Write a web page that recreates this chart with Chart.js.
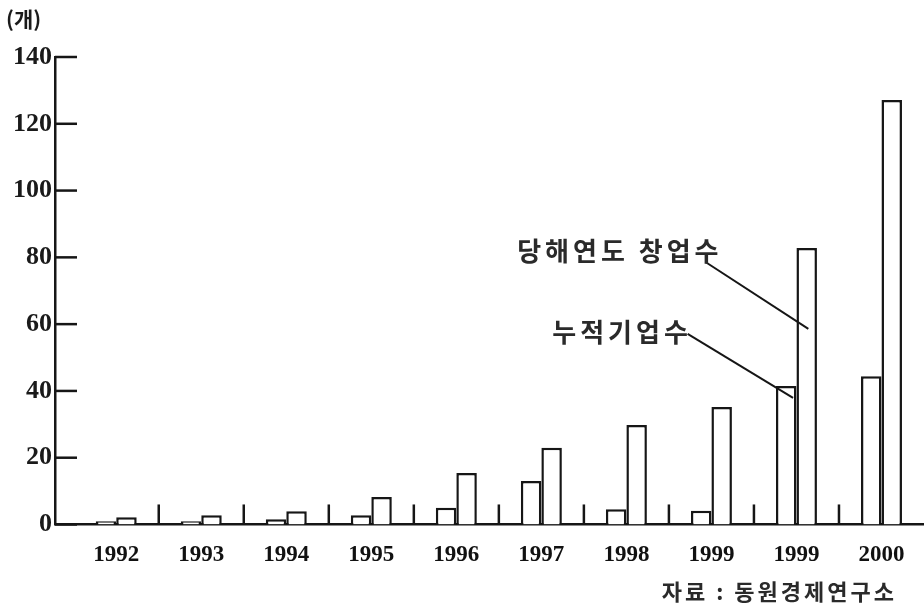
<!DOCTYPE html>
<html><head><meta charset="utf-8">
<script src="https://cdn.jsdelivr.net/npm/chart.js@4"></script>
<style>html,body{margin:0;padding:0;background:#fff}#wrap{width:924px;height:615px}</style>
</head><body><div id="wrap"><canvas id="c"></canvas></div>
<script>
const categories = ['1992','1993','1994','1995','1996','1997','1998','1999','1999','2000'];
const seriesLeft = [1, 1, 1.6, 2.8, 5, 13, 4.6, 4.1, 41.5, 44.4];
const seriesRight = [2.2, 2.8, 4, 8.2, 15.4, 23, 29.8, 35.2, 82.8, 127.1];
const yTicks = [0, 20, 40, 60, 80, 100, 120, 140];
const unitLabel = '(개)';
const sourceText = '자료 : 동원경제연구소';
const leaderTexts = ['당해연도 창업수', '누적기업수'];
const leaderTextAt = [[7.13, 81.9], [6.77, 57.7]];
const leaderLines = [[[6.93, 78.6], [8.14, 58.6]], [[6.72, 57.1], [7.96, 37.9]]];
const separatorHeight = 6;

const INK = '#161616';

const decor = {
  id: 'decor',
  afterDatasetsDraw(chart) {
    const {ctx, chartArea, scales: {x, y}} = chart;
    ctx.save();
    ctx.strokeStyle = INK;
    ctx.lineWidth = 2.5;
    ctx.lineCap = 'butt';
    y.ticks.forEach(t => {
      const py = y.getPixelForValue(t.value);
      ctx.beginPath();
      ctx.moveTo(chartArea.left, py);
      ctx.lineTo(chartArea.left + 22, py);
      ctx.stroke();
    });
    for (let i = 0; i < categories.length - 1; i++) {
      const px = x.getPixelForValue(i + 0.5);
      ctx.beginPath();
      ctx.moveTo(px, y.getPixelForValue(0));
      ctx.lineTo(px, y.getPixelForValue(separatorHeight));
      ctx.stroke();
    }
    ctx.lineWidth = 2;
    leaderLines.forEach(seg => {
      ctx.beginPath();
      ctx.moveTo(x.getPixelForValue(seg[0][0]), y.getPixelForValue(seg[0][1]));
      ctx.lineTo(x.getPixelForValue(seg[1][0]), y.getPixelForValue(seg[1][1]));
      ctx.stroke();
    });
    ctx.fillStyle = '#2a2a2a';
    ctx.font = 'bold 26px "Noto Sans CJK KR"';
    ctx.letterSpacing = '4px';
    ctx.textAlign = 'right';
    ctx.textBaseline = 'middle';
    leaderTexts.forEach((t, i) => {
      ctx.fillText(t, x.getPixelForValue(leaderTextAt[i][0]), y.getPixelForValue(leaderTextAt[i][1]));
    });
    ctx.letterSpacing = '0px';
    ctx.fillStyle = '#1a1a1a';
    ctx.font = 'bold 21px "Noto Sans CJK KR"';
    ctx.textAlign = 'left';
    ctx.fillText(unitLabel, 6, 19);
    ctx.font = 'bold 22px "Noto Sans CJK KR"';
    ctx.letterSpacing = '3px';
    ctx.fillStyle = '#2a2a2a';
    ctx.textAlign = 'right';
    ctx.fillText(sourceText, 897, 592);
    ctx.restore();
  }
};

new Chart(document.getElementById('c'), {
  type: 'bar',
  data: {
    datasets: [
      {label: 'left', data: seriesLeft.map((v, i) => ({x: i, y: v})),
       backgroundColor: '#fff', borderColor: INK, borderWidth: 2.5, borderSkipped: 'start'},
      {label: 'right', data: seriesRight.map((v, i) => ({x: i, y: v})),
       backgroundColor: '#fff', borderColor: INK, borderWidth: 2.5, borderSkipped: 'start'}
    ]
  },
  options: {
    responsive: true,
    maintainAspectRatio: false,
    animation: false,
    events: [],
    categoryPercentage: 0.482,
    barPercentage: 1,
    layout: {padding: {top: 57, left: 0, right: 0, bottom: 0}},
    plugins: {legend: {display: false}, tooltip: {enabled: false}},
    scales: {
      x: {
        type: 'linear', min: -0.72, max: 9.5, offset: false,
        afterBuildTicks: s => { s.ticks = categories.map((c, i) => ({value: i})); },
        afterFit: s => { s.height = 90.5; },
        grid: {display: false, drawTicks: false, offset: false},
        border: {display: true, color: INK, width: 2.5},
        ticks: {
          callback: v => categories[v] ?? '',
          font: {family: '"Liberation Serif"', size: 23, weight: 'bold'},
          color: '#111', padding: 17, maxRotation: 0, autoSkip: false
        }
      },
      y: {
        min: 0, max: 140,
        afterBuildTicks: s => { s.ticks = yTicks.map(v => ({value: v})); },
        afterFit: s => { s.width = 55; },
        grid: {display: false, drawTicks: false},
        border: {display: true, color: INK, width: 2.5},
        ticks: {
          font: {family: '"Liberation Serif"', size: 26, weight: 'bold'},
          color: '#1a1a1a', padding: 3
        }
      }
    }
  },
  plugins: [decor]
});
</script>
</body></html>
